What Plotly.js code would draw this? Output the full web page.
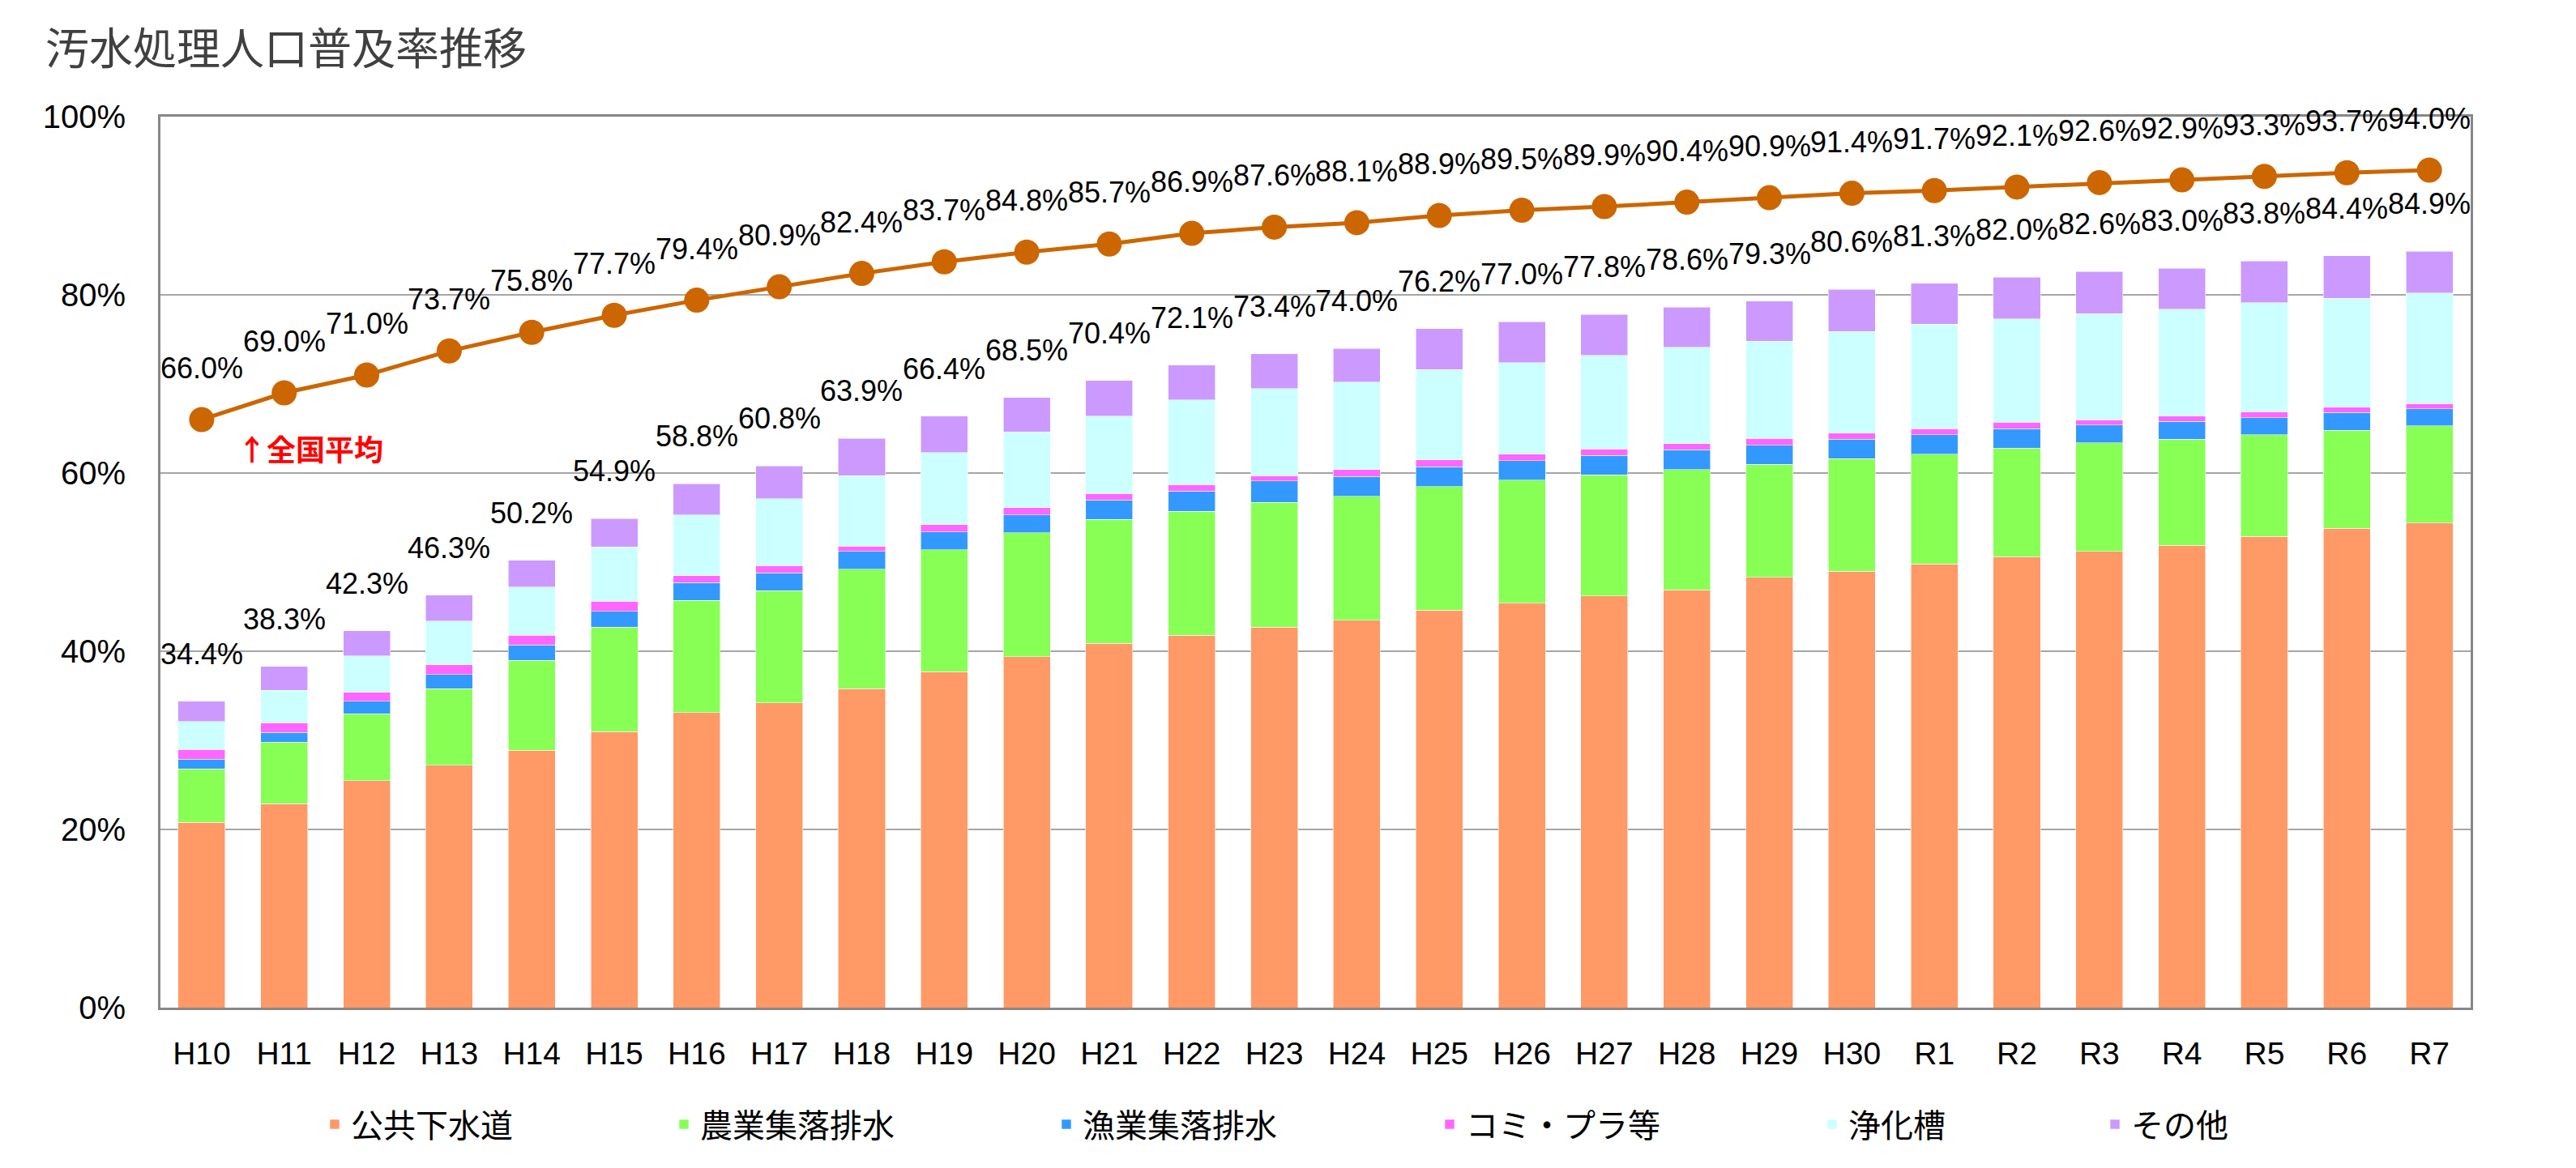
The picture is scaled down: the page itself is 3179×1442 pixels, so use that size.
<!DOCTYPE html>
<html>
<head>
<meta charset="utf-8">
<script src="https://cdn.plot.ly/plotly-3.0.1.min.js"></script>
<style>
  html, body { margin: 0; padding: 0; background: #ffffff; }
  #chart { width: 3179px; height: 1442px; }
</style>
</head>
<body>
<div id="chart"></div>
<script>
// ---- data ----
const categories = ['H10','H11','H12','H13','H14','H15','H16','H17','H18','H19','H20',
  'H21','H22','H23','H24','H25','H26','H27','H28','H29','H30',
  'R1','R2','R3','R4','R5','R6','R7'];

// 公共下水道
const publicSewer = [20.8,22.9,25.5,27.2,28.9,31.0,33.1,34.2,35.8,37.7,39.4,40.9,41.8,42.7,43.5,44.6,45.4,46.2,46.9,48.3,49.0,49.8,50.6,51.2,51.9,52.9,53.8,54.4];
// 農業集落排水
const agriSewer = [6.0,6.9,7.5,8.6,10.1,11.7,12.6,12.6,13.4,13.7,13.9,13.9,13.9,14.0,13.9,13.9,13.8,13.6,13.5,12.7,12.6,12.3,12.2,12.2,11.9,11.4,11.0,10.9];
// 漁業集落排水
const fishSewer = [1.1,1.1,1.4,1.6,1.7,1.8,2.0,2.0,2.0,2.0,2.0,2.2,2.3,2.4,2.2,2.2,2.2,2.2,2.2,2.1,2.2,2.2,2.2,2.0,2.0,1.9,2.0,1.9];
// コミ・プラ等
const communityPlant = [1.1,1.1,1.0,1.1,1.1,1.1,0.8,0.8,0.6,0.8,0.8,0.7,0.7,0.6,0.8,0.8,0.7,0.7,0.7,0.8,0.7,0.7,0.7,0.6,0.6,0.7,0.6,0.6];
// 浄化槽
const septicTank = [3.1,3.6,4.1,4.9,5.4,6.1,6.8,7.5,7.9,8.1,8.5,8.7,9.5,9.8,9.8,10.1,10.3,10.5,10.8,10.9,11.4,11.7,11.6,11.9,12.0,12.2,12.2,12.4];
// その他
const others = [2.3,2.7,2.8,2.9,3.0,3.2,3.5,3.7,4.2,4.1,3.9,4.0,3.9,3.9,3.8,4.6,4.6,4.6,4.5,4.5,4.7,4.6,4.7,4.7,4.6,4.7,4.8,4.7];

// 合計（棒の上のラベル）
const totals = [34.4,38.3,42.3,46.3,50.2,54.9,58.8,60.8,63.9,66.4,68.5,70.4,72.1,73.4,74.0,76.2,77.0,77.8,78.6,79.3,80.6,81.3,82.0,82.6,83.0,83.8,84.4,84.9];
// 全国平均
const nationalAvg = [66.0,69.0,71.0,73.7,75.8,77.7,79.4,80.9,82.4,83.7,84.8,85.7,86.9,87.6,88.1,88.9,89.5,89.9,90.4,90.9,91.4,91.7,92.1,92.6,92.9,93.3,93.7,94.0];

const seriesNames = ['公共下水道','農業集落排水','漁業集落排水','コミ・プラ等','浄化槽','その他'];
const seriesValues = [publicSewer, agriSewer, fishSewer, communityPlant, septicTank, others];
const seriesColors = ['#FF9966','#88FF55','#3399FF','#FF66FF','#CCFFFF','#CC99FF'];
const yTicks = [0,20,40,60,80,100];

// ---- styling ----
const NUM_FONT = 'Liberation Sans, Arial, Noto Sans CJK JP, sans-serif';
const JP_FONT = 'Noto Sans CJK JP, Liberation Sans, sans-serif';
const W = 3179, H = 1442;
// legend left positions (px) for each entry
const legendPx = [393, 824, 1296, 1769, 2241, 2590];

const traces = [];
seriesNames.forEach((name, i) => {
  traces.push({
    type: 'bar',
    name: name,
    x: categories,
    y: seriesValues[i],
    marker: { color: seriesColors[i], line: { color: 'rgba(255,255,255,0.55)', width: 1 } },
    legend: i === 0 ? 'legend' : 'legend' + (i + 1),
    hoverinfo: 'x+y+name'
  });
});

traces.push({
  type: 'scatter',
  mode: 'lines+markers',
  name: '全国平均',
  x: categories,
  y: nationalAvg,
  line: { color: '#CC6600', width: 5 },
  marker: { color: '#CC6600', size: 31 },
  showlegend: false
});

const annotations = [];
categories.forEach((c, i) => {
  annotations.push({
    x: c, y: totals[i], xref: 'x', yref: 'y',
    text: totals[i].toFixed(1) + '%',
    showarrow: false, xanchor: 'center', yanchor: 'bottom', yshift: 36,
    font: { family: NUM_FONT, size: 36, color: '#000000' }
  });
  annotations.push({
    x: c, y: nationalAvg[i], xref: 'x', yref: 'y',
    text: nationalAvg[i].toFixed(1) + '%',
    showarrow: false, xanchor: 'center', yanchor: 'bottom', yshift: 41,
    font: { family: NUM_FONT, size: 36, color: '#000000' }
  });
});
annotations.push({
  x: 0.41, y: 62.8, xref: 'x', yref: 'y',
  text: '<b>↑全国平均</b>',
  showarrow: false, xanchor: 'left', yanchor: 'middle',
  font: { family: JP_FONT, size: 36, color: '#FF0000' }
});

const layout = {
  width: W, height: H,
  paper_bgcolor: '#ffffff', plot_bgcolor: '#ffffff',
  margin: { l: 198, r: 130, t: 144, b: 198, pad: 0 },
  barmode: 'stack',
  bargap: 0.43,
  font: { family: NUM_FONT, size: 38, color: '#000000' },
  title: {
    text: '汚水処理人口普及率推移',
    x: 56 / W, xref: 'container', xanchor: 'left',
    y: 1 - 61 / H, yref: 'container', yanchor: 'middle',
    font: { family: JP_FONT, size: 54, color: '#404040' }
  },
  xaxis: {
    type: 'category',
    range: [-0.5, categories.length - 0.5],
    autorange: false,
    tickfont: { family: NUM_FONT, size: 39, color: '#000000' },
    showline: true, linecolor: '#878787', linewidth: 3, mirror: true,
    ticks: '', ticklabelstandoff: 20,
    showgrid: false, zeroline: false, fixedrange: true
  },
  yaxis: {
    range: [0, 100],
    autorange: false,
    tickvals: yTicks,
    ticktext: yTicks.map(v => v + '%'),
    tickfont: { family: NUM_FONT, size: 40, color: '#000000' },
    showline: true, linecolor: '#878787', linewidth: 3, mirror: true,
    showgrid: true, gridcolor: '#A6A6A6', gridwidth: 2,
    ticks: '', ticklabelstandoff: 32,
    zeroline: false, fixedrange: true
  },
  annotations: annotations,
  showlegend: true
};

seriesNames.forEach((name, i) => {
  const key = i === 0 ? 'legend' : 'legend' + (i + 1);
  layout[key] = {
    x: legendPx[i] / W, xref: 'container', xanchor: 'left',
    y: 1 - 1388 / H, yref: 'container', yanchor: 'middle',
    orientation: 'h',
    bgcolor: 'rgba(0,0,0,0)',
    font: { family: JP_FONT, size: 40, color: '#000000' }
  };
});

Plotly.newPlot('chart', traces, layout, { staticPlot: true, displayModeBar: false });
</script>
</body>
</html>
